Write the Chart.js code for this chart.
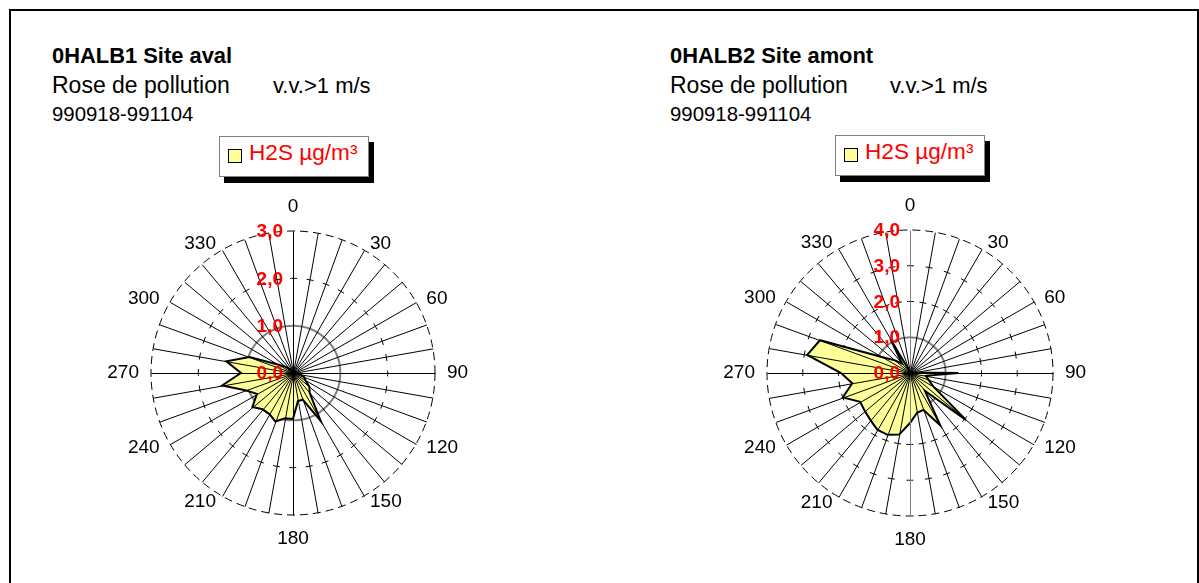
<!DOCTYPE html>
<html><head><meta charset="utf-8">
<script src="https://cdn.jsdelivr.net/npm/chart.js@4"></script>
<style>
html,body{margin:0;padding:0;background:#fff;width:1199px;height:583px;overflow:hidden;font-family:"Liberation Sans",Arial,sans-serif;}
#frame{position:absolute;left:9px;top:9px;width:1186px;height:700px;border-left:2px solid #000;border-top:2px solid #000;border-right:2px solid #000;}
.t{position:absolute;white-space:nowrap;line-height:1;color:#000;}
.b{font-weight:bold;}
.legend{position:absolute;background:#fff;border:1px solid #808080;box-shadow:5px 6px 0 #000;box-sizing:border-box;width:150px;height:41px;}
.sw{position:absolute;left:8px;top:12px;width:14px;height:14px;background:#FFFF99;border:1px solid #000;box-sizing:border-box;}
.lt{position:absolute;left:29px;top:5px;font-size:22.6px;line-height:1;color:#FF0000;white-space:nowrap;}
canvas{position:absolute;top:0;}
</style></head><body>
<div id="frame"></div>

<div class="t b" style="left:52px;top:45px;font-size:21.9px;">0HALB1 Site aval</div>
<div class="t" style="left:52px;top:74px;font-size:23px;">Rose de pollution</div>
<div class="t" style="left:273px;top:75px;font-size:22px;">v.v.&gt;1 m/s</div>
<div class="t" style="left:52px;top:104px;font-size:20.4px;">990918-991104</div>
<div class="legend" style="left:219px;top:136px;"><div class="sw"></div><div class="lt">H2S µg/m³</div></div>

<div class="t b" style="left:670px;top:45px;font-size:21.9px;">0HALB2 Site amont</div>
<div class="t" style="left:670px;top:74px;font-size:23px;">Rose de pollution</div>
<div class="t" style="left:890px;top:75px;font-size:22px;">v.v.&gt;1 m/s</div>
<div class="t" style="left:670px;top:104px;font-size:20.4px;">990918-991104</div>
<div class="legend" style="left:835px;top:135px;"><div class="sw"></div><div class="lt">H2S µg/m³</div></div>

<canvas id="c1" width="600" height="583" style="left:0px;"></canvas>
<canvas id="c2" width="599" height="583" style="left:600px;"></canvas>

<script>
// ---- data ----
const directions = ['0','10','20','30','40','50','60','70','80','90','100','110','120','130','140','150','160','170',
  '180','190','200','210','220','230','240','250','260','270','280','290','300','310','320','330','340','350'];
const shownDirectionLabels = ['0','30','60','90','120','150','180','210','240','270','300','330'];
const seriesName = 'H2S µg/m³';
// 0HALB1 Site aval
const h2sAval = [0.05,0.05,0.05,0.05,0.05,0.05,0.05,0.05,0.05,0.10,
  0.15,0.25,0.30,0.45,0.55,1.17,0.60,0.60,
  0.97,0.97,1.09,1.00,1.00,1.12,0.88,1.07,1.52,1.10,
  1.43,0.98,0.35,0.20,0.10,0.05,0.05,0.05];
const avalTicks = [0,1,2,3];
const avalTickLabels = ['0,0','1,0','2,0','3,0'];
// 0HALB2 Site amont
const h2sAmont = [0.05,0.05,0.05,0.05,0.05,0.05,0.05,0.08,0.10,1.35,
  0.45,0.55,0.75,2.04,0.65,1.69,1.10,1.13,
  1.40,1.75,1.84,1.83,1.72,1.65,1.61,2.00,1.64,1.93,
  2.92,2.68,0.88,0.55,0.35,1.10,0.10,0.05];
const amontTicks = [0,1,2,3,4];
const amontTickLabels = ['0,0','1,0','2,0','3,0','4,0'];

const FONT = '"Liberation Sans", Arial, sans-serif';

function makeOverlay(ticks, tickLabels, verticalSpokeColor) {
  return {
    id: 'overlay',
    afterDatasetsDraw(chart) {
      const s = chart.scales.r, c = chart.ctx;
      const R = s.getDistanceFromCenterForValue(s.max);
      c.save();
      c.lineWidth = 1;
      for (let i = 0; i < directions.length; i++) {
        const p = s.getPointPosition(i, R);
        c.beginPath();
        c.moveTo(s.xCenter + 0.5, s.yCenter + 0.5);
        c.lineTo(p.x + 0.5, p.y + 0.5);
        c.strokeStyle = (i === 0 || i === 18) ? verticalSpokeColor : '#000';
        c.stroke();
      }
      c.font = '19px ' + FONT;
      c.fillStyle = '#000';
      c.textBaseline = 'middle';
      for (let i = 0; i < directions.length; i++) {
        if (!shownDirectionLabels.includes(directions[i])) continue;
        const th = s.getPointPosition(i, R).angle + Math.PI / 2;
        const sn = Math.sin(th);
        if (Math.abs(sn) < 1e-6) {
          const p = s.getPointPosition(i, R + 24);
          c.textAlign = 'center';
          c.fillText(directions[i], p.x, p.y);
        } else {
          const px = s.getPointPosition(i, R + 12).x;
          const py = s.getPointPosition(i, R + 7).y;
          c.textAlign = sn > 0 ? 'left' : 'right';
          c.fillText(directions[i], px, py);
        }
      }
      c.font = 'bold 19px ' + FONT;
      c.fillStyle = '#FF0000';
      c.textAlign = 'right';
      ticks.forEach((v, k) => {
        const d = s.getDistanceFromCenterForValue(v);
        c.fillText(tickLabels[k], s.xCenter - 10, s.yCenter - d + 1);
      });
      c.restore();
    }
  };
}

function makeChart(id, values, ticks, tickLabels, R, cx, cy, canvasLeft, canvasWidth, vColor) {
  const max = ticks[ticks.length - 1];
  const lx = cx - canvasLeft;
  return new Chart(document.getElementById(id), {
    type: 'radar',
    data: {
      labels: directions,
      datasets: [{
        label: seriesName,
        data: values,
        backgroundColor: '#FFFF99',
        borderColor: '#000',
        borderWidth: 2,
        pointRadius: 0,
        pointHoverRadius: 0,
        fill: true,
        tension: 0
      }]
    },
    options: {
      responsive: false,
      animation: false,
      devicePixelRatio: 1,
      layout: { padding: { left: lx - R, top: cy - R, right: canvasWidth - (lx + R), bottom: 583 - (cy + R) } },
      plugins: { legend: { display: false }, tooltip: { enabled: false } },
      scales: {
        r: {
          min: 0, max: max,
          ticks: { display: false, stepSize: 1 },
          pointLabels: { display: false },
          angleLines: { display: false },
          grid: {
            circular: true,
            color: c => c.tick.value === 1 ? '#808080' : '#000',
            lineWidth: c => c.tick.value === 1 ? 2 : 1
          },
          border: {
            dash: c => {
              const v = c.tick.value;
              if (v === 1) return [];
              if (v === max) return [8, 5];
              const r = c.scale.getDistanceFromCenterForValue(v);
              const per = 2 * Math.PI * r / directions.length;
              return [7, per - 7];
            },
            dashOffset: c => (c.tick.value !== 1 && c.tick.value !== max) ? 3.5 : 0
          }
        }
      }
    },
    plugins: [makeOverlay(ticks, tickLabels, vColor)]
  });
}

makeChart('c1', h2sAval, avalTicks, avalTickLabels, 142, 293, 373, 0, 600, '#000');
makeChart('c2', h2sAmont, amontTicks, amontTickLabels, 143, 910, 373, 600, 599, '#808080');
</script>
</body></html>
